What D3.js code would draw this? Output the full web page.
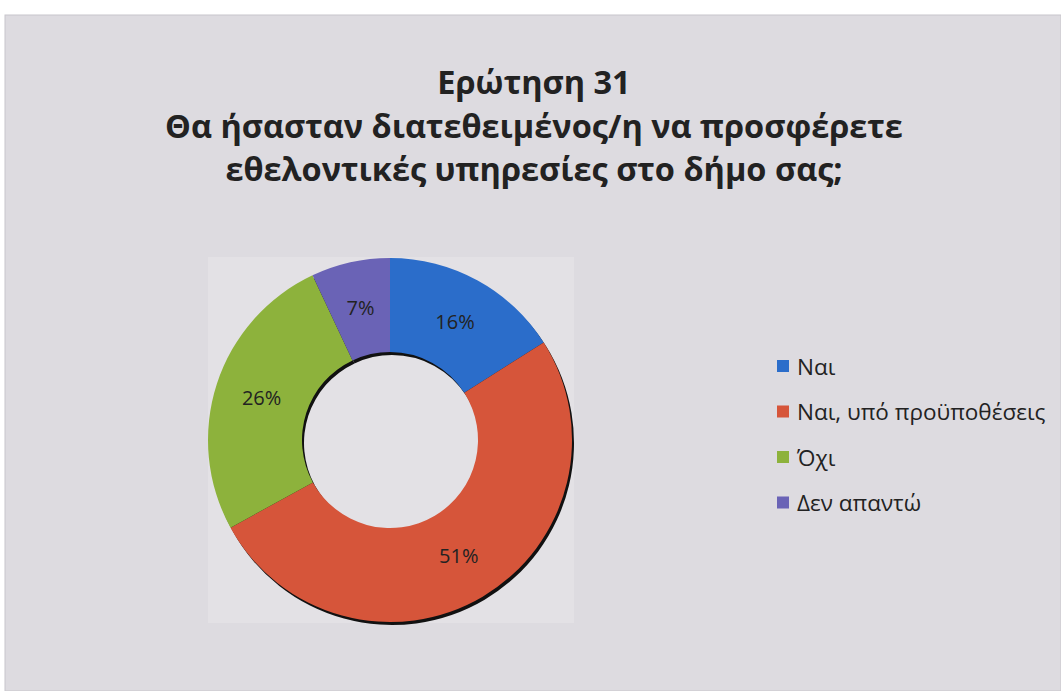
<!DOCTYPE html>
<html><head><meta charset="utf-8">
<script src="https://cdn.jsdelivr.net/npm/d3@7"></script>
<style>body{margin:0;background:#fff;}svg{display:block;}</style>
</head><body>
<svg id="c" width="1061" height="691"></svg>
<script>
const categories = ["Ναι", "Ναι, υπό προϋποθέσεις", "Όχι", "Δεν απαντώ"];
const values = [16, 51, 26, 7];
const colors = ["#2b6dca", "#d6553a", "#8db23c", "#6a63b6"];
const titleLines = ["Ερώτηση 31", "Θα ήσασταν διατεθειμένος/η να προσφέρετε", "εθελοντικές υπηρεσίες στο δήμο σας;"];

const svg = d3.select("#c");
const font = "'Open Sans', 'Noto Sans', sans-serif";
svg.append("rect").attr("x",0).attr("y",0).attr("width",1061).attr("height",691).attr("fill","#fff");
svg.append("rect").attr("x",5).attr("y",15).attr("width",1056).attr("height",676).attr("fill","#dddbe0").attr("stroke","#c8c6cc");
svg.append("rect").attr("x",208).attr("y",257).attr("width",366).attr("height",366).attr("fill","#e3e1e5");

svg.selectAll("text.title").data(titleLines).join("text")
  .attr("x",534).attr("y",(d,i)=>94+i*43.5)
  .attr("text-anchor","middle").attr("font-family",font).attr("font-weight","bold")
  .attr("font-size",32.5).attr("fill","#222").text(d=>d);

const cx=390, cy=440, R=182, r=88;
const pie = d3.pie().sort(null).value(d=>d)(values);
const arc = d3.arc().innerRadius(r).outerRadius(R);
const g = svg.append("g").attr("transform",`translate(${cx},${cy})`);
// shadow
g.append("g").attr("transform","translate(2,3)").selectAll("path").data(pie).join("path")
  .attr("d",arc).attr("fill","#111");
g.selectAll("path.s").data(pie).join("path").attr("class","s")
  .attr("d",arc).attr("fill",(d,i)=>colors[i]);
const labelArc = d3.arc().innerRadius((R+r)/2).outerRadius((R+r)/2);
g.selectAll("text").data(pie).join("text")
  .attr("transform",d=>`translate(${labelArc.centroid(d)})`)
  .attr("text-anchor","middle").attr("dy","0.35em")
  .attr("font-family",font).attr("font-size",20).attr("fill","#222")
  .text(d=>d.data+"%");

const lg = svg.append("g");
const rows = lg.selectAll("g").data(categories).join("g")
  .attr("transform",(d,i)=>`translate(777,${367+i*45.5})`);
rows.append("rect").attr("x",0).attr("y",-7).attr("width",12).attr("height",12).attr("fill",(d,i)=>colors[i]);
rows.append("text").attr("x",20).attr("y",0).attr("dy","0.35em")
  .attr("font-family",font).attr("font-size",22.5).attr("fill","#222").text(d=>d);
</script>
</body></html>
